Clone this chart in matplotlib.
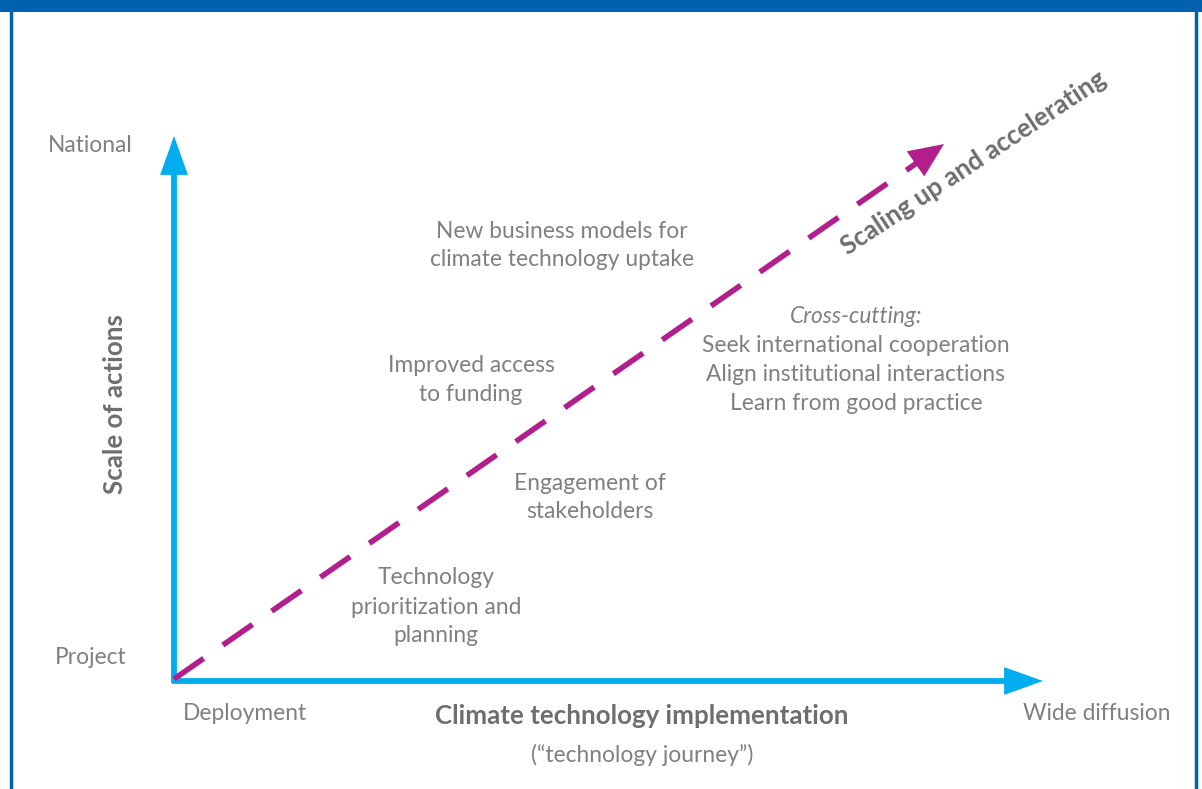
import matplotlib.pyplot as plt
from matplotlib.patches import Rectangle, FancyArrowPatch

plt.rcParams["font.family"] = ["Lato", "DejaVu Sans"]

grey = "#808083"
dark = "#6d6e71"
blue_axis = "#00aeef"
magenta = "#b31e8d"
frame_blue = "#0061af"

axis_origin = (174, 681)
y_axis_tip = (174, 136)
x_axis_tip = (1043, 681)
trend_tip = (944, 144)

# text blocks: (lines, x centre, first-line y)
steps = [
    (["New business models for", "climate technology uptake"], 562, 231),
    (["Improved access", "to funding"], 471, 365),
    (["Engagement of", "stakeholders"], 590, 483),
    (["Technology", "prioritization and", "planning"], 436, 578),
]
cross_title = "Cross-cutting:"
cross_items = ["Seek international cooperation", "Align institutional interactions",
               "Learn from good practice"]
line_gap = 29

fig = plt.figure(figsize=(12.02, 7.89), dpi=100)
ax = fig.add_axes([0, 0, 1, 1])
ax.set_xlim(0, 1202)
ax.set_ylim(789, 0)
ax.axis("off")

# frame
ax.add_patch(Rectangle((0, 0), 1202, 12, color=frame_blue, lw=0))
ax.plot([11, 11], [0, 789], color=frame_blue, lw=2.5)
ax.plot([1196, 1196], [0, 789], color=frame_blue, lw=2.5)

# axes arrows
head = "-|>,head_length=1.4,head_width=0.5"
ax.plot([axis_origin[0], axis_origin[0]], [683, y_axis_tip[1] + 20], color=blue_axis, lw=4.2,
        solid_capstyle="butt")
ax.plot([172, x_axis_tip[0] - 20], [axis_origin[1], axis_origin[1]], color=blue_axis, lw=4.2,
        solid_capstyle="butt")
for tip, start in ((y_axis_tip, (174, 170)), (x_axis_tip, (1008, 681))):
    ax.add_patch(FancyArrowPatch(start, tip, arrowstyle=head, mutation_scale=20,
                                 color=blue_axis, lw=0, shrinkA=0, shrinkB=0))

# dashed trend arrow
dx, dy = trend_tip[0] - axis_origin[0], trend_tip[1] - axis_origin[1]
f = 0.965
ax.plot([axis_origin[0], axis_origin[0] + f * dx], [axis_origin[1] - 2, axis_origin[1] + f * dy],
        color=magenta, lw=4, dashes=(6.5, 4.2))
ax.add_patch(FancyArrowPatch((axis_origin[0] + 0.955 * dx, axis_origin[1] + 0.955 * dy), trend_tip,
                             arrowstyle="-|>,head_length=1.25,head_width=0.55", mutation_scale=20,
                             color=magenta, lw=0, shrinkA=0, shrinkB=0))

fs = 16.4
bfs = 18.6
ax.text(90, 145, "National", color=grey, fontsize=fs, ha="center", va="center")
ax.text(91, 657, "Project", color=grey, fontsize=fs, ha="center", va="center")
ax.text(245, 714, "Deployment", color=grey, fontsize=fs, ha="center", va="center")
ax.text(1097, 714, "Wide diffusion", color=grey, fontsize=fs, ha="center", va="center")
ax.text(642, 716, "Climate technology implementation", color=dark, fontsize=bfs,
        fontweight="bold", ha="center", va="center")
ax.text(642, 755, "(\u201ctechnology journey\u201d)", color=grey, fontsize=fs, ha="center", va="center")
ax.text(115, 404, "Scale of actions", color=dark, fontsize=bfs, fontweight="bold",
        rotation=90, ha="center", va="center")
ax.text(974, 163, "Scaling up and accelerating", color=dark, fontsize=bfs, fontweight="bold",
        rotation=33.5, ha="center", va="center", rotation_mode="anchor")

for lines, x, y in steps:
    for i, s in enumerate(lines):
        ax.text(x, y + i * line_gap, s, color=grey, fontsize=fs, ha="center", va="center")

ax.text(856, 316, cross_title, color=grey, fontsize=fs, style="italic", ha="center", va="center")
for i, s in enumerate(cross_items):
    ax.text(856, 345 + i * line_gap, s, color=grey, fontsize=fs, ha="center", va="center")

fig.savefig("out.png", dpi=100)
